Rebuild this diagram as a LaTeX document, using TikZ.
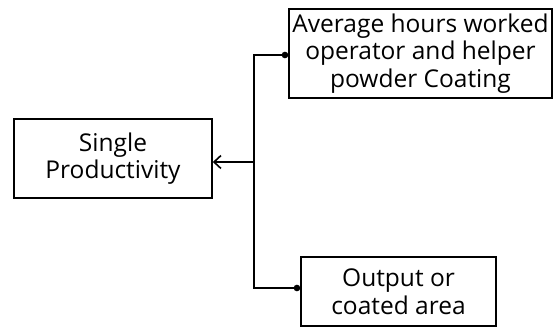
\documentclass[tikz,border=0pt]{standalone}
\usepackage{fontspec}
\setmainfont{Open Sans}
\usetikzlibrary{arrows.meta}
\begin{document}
\begin{tikzpicture}[x=1pt,y=-1pt,
  box/.style={draw, line width=1.6pt, inner sep=0pt, align=center,
    font=\fontsize{24.5}{27.5}\selectfont},
  conn/.style={line width=1.6pt},
  dotted ends/.style={conn, {Circle[length=6.5pt,width=6.5pt]}-{Circle[length=6.5pt,width=6.5pt]}},
  open arrow/.style={conn, -{Straight Barb[length=7pt, width=13pt]}}]
  \useasboundingbox (0,0) rectangle (557,327);
  % the three boxes
  \node[box, minimum width=263pt, minimum height=89pt] (avg) at (420.5,53.5)
    {Average hours worked\\operator and helper\\powder Coating};
  \node[box, minimum width=198pt, minimum height=79pt] (single) at (113,158.5)
    {Single\\Productivity};
  \node[box, minimum width=195pt, minimum height=69pt] (out) at (398.5,291.5)
    {Output or\\coated area};
  % junction on the vertical bus
  \coordinate (j) at (254,162);
  \draw[dotted ends] ([yshift=-1.5pt]avg.west) -| (j) |- ([yshift=3.5pt]out.west);
  \draw[open arrow] (j) -- (single.east |- j);
\end{tikzpicture}
\end{document}
